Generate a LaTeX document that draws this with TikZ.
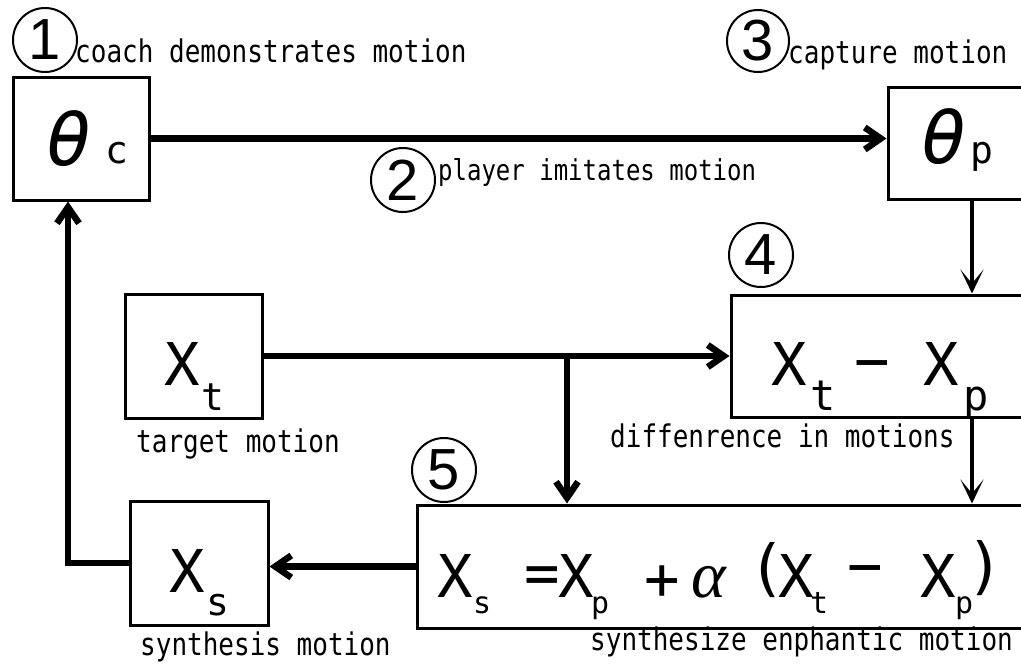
\documentclass[tikz,border=0pt]{standalone}
\usepackage{fontspec}
\usepackage{graphicx}
\setmainfont{DejaVu Sans Mono}
\newfontfamily\digitfont{Liberation Sans}
\newfontfamily\alphafont{Liberation Serif}
\usetikzlibrary{arrows.meta}

% tall monospaced caption text
\newcommand{\tallcap}[1]{\scalebox{1}[1.2]{#1}}

\tikzset{
  box/.style={draw, line width=3pt, inner sep=0pt},
  lbl/.style={anchor=base west, inner sep=0pt, font=\fontsize{26}{26}\selectfont},
  sym/.style={anchor=base west, inner sep=0pt, font=\fontsize{59}{59}\selectfont},
  symc/.style={anchor=center, inner sep=0pt, font=\fontsize{59}{59}\selectfont},
  theta/.style={anchor=base west, inner sep=0pt, font=\itshape\fontsize{75}{75}\selectfont},
  subbig/.style={anchor=base west, inner sep=0pt, font=\fontsize{38}{38}\selectfont},
  subsmall/.style={anchor=base west, inner sep=0pt, font=\fontsize{30}{30}\selectfont},
  num/.style={draw, circle, line width=2pt, minimum size=64pt, inner sep=0pt,
    font=\digitfont\fontsize{58}{58}\selectfont},
  heavy/.style={line width=6.5pt, -{Straight Barb[length=16pt,width=22pt]}},
  light/.style={line width=4pt, -{Stealth[length=24pt,width=23pt,inset=14pt]}},
}

\begin{document}
\begin{tikzpicture}[x=1pt, y=-1pt]
\useasboundingbox (0,0) rectangle (1021,664);
\fill[white] (0,0) rectangle (1021,664);
\clip (0,0) rectangle (1021,664);

% boxes
\node[box, minimum width=136pt, minimum height=123pt] (thc) at (81,138.5) {};
\node[box, minimum width=152pt, minimum height=112pt] (thp) at (964,143) {};
\node[box, minimum width=137pt, minimum height=124pt] (xt) at (193.5,356) {};
\node[box, minimum width=309pt, minimum height=122pt] (diff) at (885.5,356) {};
\node[box, minimum width=138pt, minimum height=124pt] (xs) at (199,563) {};
\node[box, minimum width=623pt, minimum height=123pt] (form) at (728.5,566.5) {};

% box contents
\node[theta] (thc-a) at (46,165) {θ};
\node[subbig] (thc-b) at (105,163) {c};
\node[theta] (thp-a) at (921,163) {θ};
\node[subbig] (thp-b) at (970,163) {p};

\node[sym] (xt-a) at (164,385) {X};
\node[subbig] (xt-b) at (201,410) {t};

\node[sym] (xs-a) at (169,592) {X};
\node[subbig] (xs-b) at (206,615) {s};

\node[sym] (df-a) at (771,385) {X};
\node[subbig, font=\fontsize{42}{42}\selectfont] (df-b) at (810,410) {t};
\node[symc] (df-c) at (872,371) {−};
\node[sym] (df-d) at (923,385) {X};
\node[subbig, font=\fontsize{42}{42}\selectfont] (df-e) at (963,410) {p};

\node[sym] (fm-a) at (437,597) {X};
\node[subsmall] (fm-b) at (473,613) {s};
\node[symc] (fm-c) at (542,580) {=};
\node[sym] (fm-d) at (558,597) {X};
\node[subsmall] (fm-e) at (591,613) {p};
\node[symc] (fm-f) at (662,583) {+};
\node[anchor=base west, inner sep=0pt, font=\alphafont\itshape\fontsize{66}{66}\selectfont] (fm-g) at (691,597) {α};
\node[symc, font=\fontsize{62}{62}\selectfont] (fm-h) at (767,570) {(};
\node[sym] (fm-i) at (778,597) {X};
\node[subsmall] (fm-j) at (810,613) {t};
\node[symc] (fm-k) at (865,576) {−};
\node[sym] (fm-l) at (920,597) {X};
\node[subsmall] (fm-m) at (955,613) {p};
\node[symc, font=\fontsize{62}{62}\selectfont] (fm-n) at (985,568) {)};

% step numbers
\node[num] (n1) at (45,40) {1};
\node[num] (n2) at (403,180) {2};
\node[num, minimum size=62pt] (n3) at (758,41) {3};
\node[num] (n4) at (761,255) {4};
\node[num] (n5) at (444,470) {5};

% captions
\node[lbl] (c1) at (75,62) {\tallcap{coach demonstrates motion}};
\node[lbl, font=\fontsize{24}{24}\selectfont] (c2) at (438,180) {\tallcap{player imitates motion}};
\node[lbl] (c3) at (788,63) {\tallcap{capture motion}};
\node[lbl] (ct) at (136,452) {\tallcap{target motion}};
\node[lbl] (cd) at (610,447) {\tallcap{diffenrence in motions}};
\node[lbl] (cs) at (140,655) {\tallcap{synthesis motion}};
\node[lbl] (cf) at (590,650) {\tallcap{synthesize enphantic motion}};

% connectors
\coordinate (vx) at (972,0);
\coordinate (br) at (567,356);
\coordinate (lx) at (68,0);

\draw[heavy] (thc.east) -- (thc.east -| thp.west);
\draw[light] (thp.south -| vx) -- (diff.north -| vx);
\draw[light] (diff.south -| vx) -- (form.north -| vx);
\draw[heavy] (xt.east) -- (diff.west);
\draw[heavy] (br) -- (br |- form.north);
\draw[heavy] (form.west) -- (form.west -| xs.east);
\draw[heavy] (xs.west) -- (xs.west -| lx) -- (thc.south -| lx);
\end{tikzpicture}
\end{document}
